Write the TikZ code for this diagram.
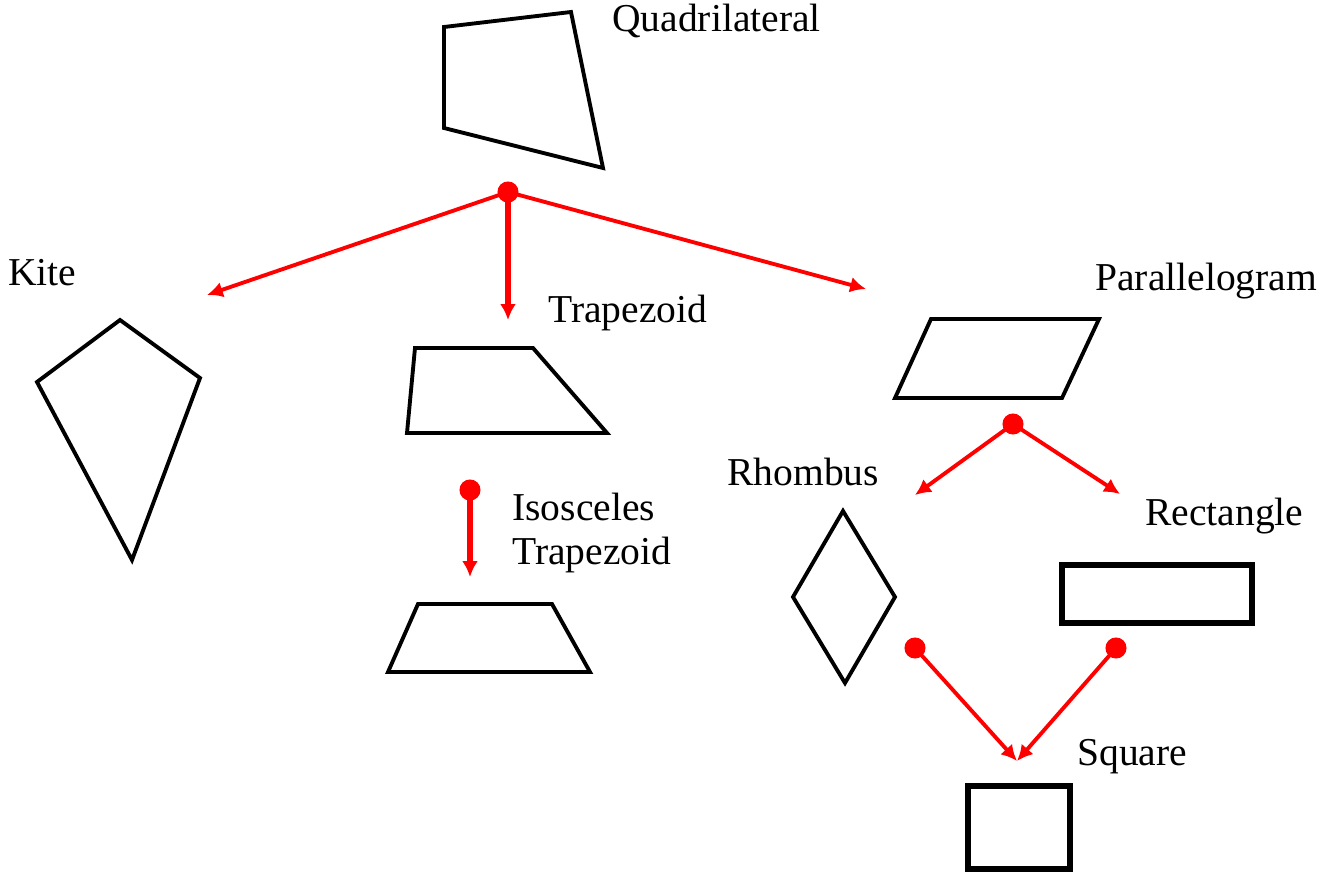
\documentclass[tikz,border=0pt]{standalone}
\usepackage{fontspec}
\setmainfont{Liberation Serif}
\usetikzlibrary{arrows.meta}
\tikzset{figline/.style={draw=black,line width=2.2pt,line join=miter},
         thickfig/.style={draw=black,line width=3.4pt,line join=miter},
         redline/.style={draw=red,line width=2.2pt,-{Latex[length=9pt,width=9pt]}},
         redthick/.style={redline,line width=3pt},
         reddot/.style={circle,fill=red,inner sep=0pt,minimum size=12pt},
         lbl/.style={anchor=base west,inner sep=0pt,font=\fontsize{22.5}{27}\selectfont}}
\begin{document}
\begin{tikzpicture}[x=0.02cm,y=-0.02cm]
\useasboundingbox (0,0) rectangle (1323,882);
% shapes
\draw[figline] (444,27)--(571,12)--(603,168)--(444,128)--cycle;
\draw[figline] (120,320)--(200,378)--(132,560)--(37,382)--cycle;
\draw[figline] (415,348)--(533,348)--(607,433)--(407,433)--cycle;
\draw[figline] (418,604)--(552,604)--(590,672)--(388,672)--cycle;
\draw[figline] (931,319)--(1099,319)--(1062,398)--(895,398)--cycle;
\draw[figline] (843,511)--(895,597)--(845,683)--(793,597)--cycle;
\draw[thickfig] (1062,565) rectangle (1252,623);
\draw[thickfig] (968,786) rectangle (1070,869);
% labels
\node[lbl] (quad) at (612,32) {Quadrilateral};
\node[lbl] (kite) at (8,285) {Kite};
\node[lbl] (trap) at (548,322) {Trapezoid};
\node[lbl] (para) at (1095,290) {Parallelogram};
\node[lbl] (rhom) at (727,485) {Rhombus};
\node[lbl] (rect) at (1145,525) {Rectangle};
\node[lbl] (isoA) at (512,520) {Isosceles};
\node[lbl] (isoB) at (512,564) {Trapezoid};
\node[lbl] (squa) at (1077,765) {Square};
% dots
\node[reddot] (d1) at (508,192) {};
\node[reddot] (d2) at (470,490) {};
\node[reddot] (d3) at (1013,424) {};
\node[reddot] (d4) at (915,648) {};
\node[reddot] (d5) at (1116,648) {};
% arrow ends
\coordinate (e1) at (207,295);
\coordinate (e2) at (508,320);
\coordinate (e3) at (866,289);
\coordinate (e4) at (470,577);
\coordinate (e5) at (915,495);
\coordinate (e6) at (1120,494);
\coordinate (e7) at (1017,761);
% arrows
\draw[redline] (d1.center)--(e1);
\draw[redthick] (d1.center)--(e2);
\draw[redline] (d1.center)--(e3);
\draw[redthick] (d2.center)--(e4);
\draw[redline] (d3.center)--(e5);
\draw[redline] (d3.center)--(e6);
\draw[redline] (d4.center)--(e7);
\draw[redline] (d5.center)--(e7);
\end{tikzpicture}
\end{document}
